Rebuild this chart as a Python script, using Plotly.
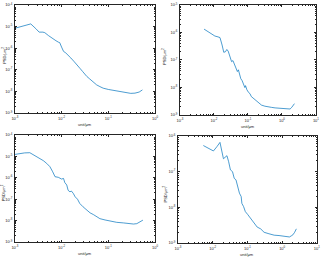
import plotly.graph_objects as go

# ---- data (frequency in 1/um, PSD in um^2) ----
tl_x = [0.001, 0.00141, 0.00219, 0.00282, 0.00331, 0.00398, 0.00437, 0.00525, 0.00631, 0.00759,
        0.00851, 0.00912, 0.0100, 0.0110, 0.0123, 0.0138, 0.0158, 0.0182, 0.0200, 0.0219,
        0.0229, 0.0251, 0.0282, 0.0316, 0.0347, 0.0398, 0.0447, 0.0501, 0.0562, 0.0661,
        0.0776, 0.100, 0.129, 0.158, 0.200, 0.245, 0.302, 0.372, 0.417, 0.457, 0.537]
tl_y = [8.3e-6, 1.0e-5, 1.32e-5, 7.9e-6, 5.5e-6, 5.5e-6, 5.2e-6, 3.8e-6, 2.8e-6, 2.2e-6,
        1.9e-6, 1.8e-6, 1.12e-6, 7.1e-7, 6.0e-7, 4.9e-7, 3.5e-7, 2.5e-7, 1.9e-7, 1.6e-7,
        1.4e-7, 1.12e-7, 8.3e-8, 6.0e-8, 4.9e-8, 3.8e-8, 2.95e-8, 2.4e-8, 2.0e-8, 1.66e-8,
        1.41e-8, 1.23e-8, 1.12e-8, 1.0e-8, 9.1e-9, 8.3e-9, 8.1e-9, 8.3e-9, 8.7e-9, 9.3e-9, 1.17e-8]

tr_x = [0.00513, 0.00708, 0.00891, 0.0107, 0.0132, 0.0151, 0.0174, 0.0195, 0.0219, 0.0240,
        0.0263, 0.0295, 0.0331, 0.0363, 0.0389, 0.0437, 0.0490, 0.0525, 0.0575, 0.0617,
        0.0676, 0.0741, 0.0813, 0.0851, 0.0933, 0.105, 0.115, 0.126, 0.141, 0.158,
        0.178, 0.200, 0.224, 0.251, 0.316, 0.398, 0.490, 0.631, 0.794, 0.955,
        1.20, 1.51, 1.74, 1.95, 2.14, 2.34]
tr_y = [1.32e-6, 1.0e-6, 8.3e-7, 7.4e-7, 6.9e-7, 6.5e-7, 3.5e-7, 1.9e-7, 2.0e-7, 2.4e-7,
        2.1e-7, 1.32e-7, 8.7e-8, 9.5e-8, 7.9e-8, 5.0e-8, 3.8e-8, 4.4e-8, 2.8e-8, 2.1e-8,
        1.78e-8, 1.41e-8, 1.0e-8, 1.17e-8, 8.3e-9, 6.6e-9, 6.0e-9, 4.7e-9, 4.2e-9, 3.5e-9,
        3.2e-9, 2.8e-9, 2.5e-9, 2.3e-9, 2.1e-9, 1.95e-9, 1.91e-9, 1.82e-9, 1.78e-9, 1.74e-9,
        1.70e-9, 1.62e-9, 1.66e-9, 1.91e-9, 2.2e-9, 2.6e-9]

bl_x = [0.001, 0.00129, 0.00162, 0.00209, 0.00245, 0.00288, 0.00347, 0.00407, 0.00479, 0.00562,
        0.00646, 0.00724, 0.00851, 0.0100, 0.0110, 0.0117, 0.0129, 0.0138, 0.0151, 0.0162,
        0.0178, 0.0195, 0.0219, 0.0245, 0.0288, 0.0347, 0.0407, 0.0479, 0.0562, 0.0661,
        0.0851, 0.110, 0.151, 0.209, 0.269, 0.347, 0.407, 0.437, 0.490, 0.550]
bl_y = [1.23e-5, 1.38e-5, 1.45e-5, 1.48e-5, 1.20e-5, 1.0e-5, 8.3e-6, 6.3e-6, 4.7e-6, 3.3e-6,
        1.9e-6, 1.12e-6, 1.05e-6, 8.7e-7, 9.3e-7, 6.0e-7, 4.6e-7, 2.6e-7, 2.2e-7, 2.4e-7,
        1.86e-7, 1.29e-7, 1.0e-7, 6.3e-8, 4.4e-8, 3.0e-8, 2.3e-8, 1.91e-8, 1.55e-8, 1.23e-8,
        1.07e-8, 9.3e-9, 8.3e-9, 7.8e-9, 7.2e-9, 6.9e-9, 7.2e-9, 7.8e-9, 8.7e-9, 1.05e-8]

br_x = [0.00537, 0.00741, 0.0105, 0.0132, 0.0162, 0.0204, 0.0257, 0.0288, 0.0324, 0.0372,
        0.0417, 0.0468, 0.0525, 0.0589, 0.0661, 0.0692, 0.0776, 0.0871, 0.102, 0.123,
        0.151, 0.191, 0.240, 0.302, 0.417, 0.589, 0.813, 1.17, 1.62, 1.82,
        2.04, 2.29, 2.57]
br_y = [5.4e-7, 4.5e-7, 3.8e-7, 5.0e-7, 6.6e-7, 2.3e-7, 2.8e-7, 1.9e-7, 1.12e-7, 1.0e-7,
        6.5e-8, 5.9e-8, 3.4e-8, 2.5e-8, 2.0e-8, 1.29e-8, 1.05e-8, 7.6e-9, 6.3e-9, 4.9e-9,
        3.8e-9, 2.8e-9, 2.5e-9, 2.0e-9, 1.82e-9, 1.66e-9, 1.62e-9, 1.55e-9, 1.48e-9, 1.58e-9,
        1.70e-9, 2.0e-9, 2.5e-9]

# decade exponents for the tick labels
x_exp_short = [-3, -2, -1, 0]
x_exp_long = [-3, -2, -1, 0, 1]
y_exp_a = [-9, -8, -7, -6, -5, -4]
y_exp_b = [-9, -8, -7, -6, -5]
y_exp_c = [-9, -8, -7, -6]

x_title = "unit/μm"
y_title = "PSD/μm<sup>2</sup>"

panels = [
    # x, y, x-domain, y-domain, x exponents, y exponents, y-title offset px
    (tl_x, tl_y, [0.046, 0.480], [0.562, 0.981], x_exp_short, y_exp_a, 11),
    (tr_x, tr_y, [0.557, 0.978], [0.554, 0.981], x_exp_long, y_exp_b, 16),
    (bl_x, bl_y, [0.046, 0.480], [0.062, 0.477], x_exp_short, y_exp_a, 11),
    (br_x, br_y, [0.551, 0.981], [0.058, 0.473], x_exp_long, y_exp_c, 13),
]

W, H = 323, 258
axis_color = "#262626"
fam = "Liberation Sans, Arial, sans-serif"
tick_font = dict(family=fam, size=4, color=axis_color)
line_color = "#0072BD"


def ticks(exps):
    vals = [10.0 ** e for e in exps]
    text = ["10<sup>%d</sup>" % e for e in exps]
    return vals, text


fig = go.Figure()
layout = dict(width=W, height=H, margin=dict(l=0, r=0, t=0, b=0, autoexpand=False),
              paper_bgcolor="white", plot_bgcolor="white", showlegend=False,
              annotations=[])

for i, (xs, ys, xd, yd, xe, ye, yoff) in enumerate(panels):
    n = "" if i == 0 else str(i + 1)
    fig.add_trace(go.Scatter(x=xs, y=ys, mode="lines",
                             line=dict(color=line_color, width=0.7),
                             xaxis="x" + n, yaxis="y" + n))
    common = dict(type="log", showgrid=False, zeroline=False, showline=True,
                  linecolor=axis_color, linewidth=0.5, mirror="ticks",
                  ticks="inside", ticklen=2, tickwidth=0.5, tickcolor=axis_color,
                  tickfont=tick_font, automargin=False,
                  minor=dict(ticks="inside", ticklen=1, tickwidth=0.4,
                             tickcolor=axis_color, dtick="D1"))
    xv, xt = ticks(xe)
    yv, yt = ticks(ye)
    layout["xaxis" + n] = dict(common, domain=xd, range=[xe[0], xe[-1]], anchor="y" + n,
                               tickmode="array", tickvals=xv, ticktext=xt,
                               ticklabelstandoff=1)
    layout["yaxis" + n] = dict(common, domain=yd, range=[ye[0], ye[-1]], anchor="x" + n,
                               tickmode="array", tickvals=yv, ticktext=yt,
                               ticklabelstandoff=1)
    layout["annotations"].append(dict(
        text=x_title, xref="paper", yref="paper", x=(xd[0] + xd[1]) / 2,
        y=yd[0] - 11.5 / H, xanchor="center", yanchor="middle", showarrow=False,
        font=dict(family=fam, size=4, color=axis_color)))
    yc = (yd[0] + yd[1]) / 2 + 4 / H * (1 if i < 2 else -1)
    layout["annotations"].append(dict(
        text=y_title, xref="paper", yref="paper", x=xd[0] - yoff / W, y=yc,
        xanchor="center", yanchor="middle", showarrow=False, textangle=-90,
        font=dict(family=fam, size=4, color=axis_color)))

fig.update_layout(**layout)
fig.write_html("out.html")
